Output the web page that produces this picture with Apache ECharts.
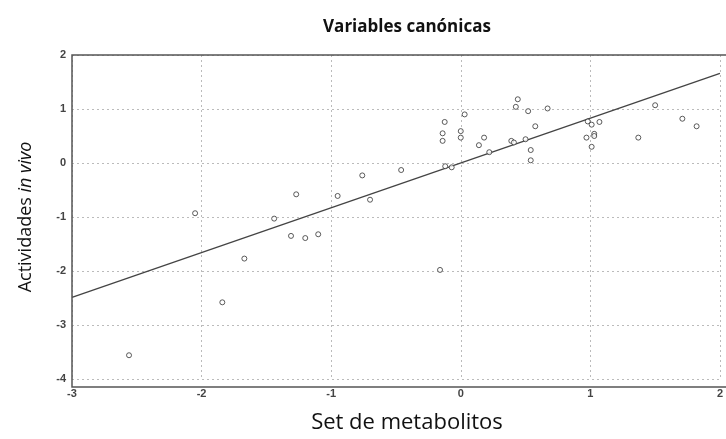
<!DOCTYPE html>
<html><head><meta charset="utf-8">
<script src="https://cdn.jsdelivr.net/npm/echarts@6/dist/echarts.min.js"></script>
<style>html,body{margin:0;padding:0;background:#fff}#c{width:726px;height:439px}</style>
</head><body><div id="c"></div>
<script>
const pointsX = [-2.56,-2.05,-1.67,-1.84,-1.44,-1.27,-1.31,-1.20,-1.10,-0.95,-0.76,-0.70,-0.46,-0.16,
  -0.14,-0.124,-0.14,0.03,0.0,0.0,-0.12,-0.07,0.14,0.18,0.22,0.39,0.41,0.50,0.425,0.44,0.52,0.575,0.54,0.54,0.67,
  0.98,1.01,1.07,1.03,1.03,0.97,1.01,1.50,1.37,1.71,1.82];
const pointsY = [-3.56,-0.93,-1.77,-2.58,-1.03,-0.58,-1.35,-1.39,-1.32,-0.61,-0.23,-0.68,-0.13,-1.98,
  0.55,0.76,0.41,0.90,0.59,0.47,-0.06,-0.08,0.33,0.47,0.20,0.41,0.38,0.44,1.04,1.18,0.96,0.68,0.24,0.05,1.01,
  0.77,0.71,0.76,0.54,0.50,0.47,0.30,1.07,0.47,0.82,0.68];
const fitLineX = [-3, 2];
const fitLineY = [-2.49, 1.66];
const xTicks = [-3,-2,-1,0,1,2];
const yTicks = [-4,-3,-2,-1,0,1,2];

const chart = echarts.init(document.getElementById('c'));
const labelStyle = {color:'#444', fontFamily:'Liberation Sans, Arial', fontWeight:'bold', fontSize:11};
const G = {left:72, top:55, width:655, height:332};
chart.setOption({
  animation:false,
  title:{text:'Variables canónicas', left:402, top:14, textAlign:'center',
    textStyle:{fontFamily:'Open Sans', fontWeight:'bold', fontSize:17, color:'#111'}},
  grid:G,
  xAxis:{type:'value', min:-3, max:2, interval:1,
    name:'Set de metabolitos', nameLocation:'middle', nameGap:33,
    nameTextStyle:{fontFamily:'Open Sans', fontSize:22, color:'#111', padding:[0,0,0,22]},
    axisLine:{show:false},
    axisTick:{show:false},
    axisLabel:Object.assign({margin:9, formatter:v=>xTicks.includes(v)?String(v):''}, labelStyle),
    splitLine:{show:true, lineStyle:{type:[2,3], color:'#bbb', width:1}}},
  yAxis:{type:'value', min:-4, max:2, interval:1,
    name:'{a|Actividades }{b|in vivo}', nameLocation:'middle', nameGap:37, nameRotate:90,
    nameTextStyle:{rich:{a:{fontFamily:'Open Sans', fontSize:18, color:'#111'},
                         b:{fontFamily:'Open Sans', fontSize:18, fontStyle:'italic', color:'#111'}}},
    axisLine:{show:false},
    axisTick:{show:false},
    axisLabel:Object.assign({margin:6, formatter:v=>yTicks.includes(v)?String(v):''}, labelStyle),
    splitLine:{show:true, lineStyle:{type:[2,3], color:'#bbb', width:1}}},
  series:[
    {type:'line', data:fitLineX.map((x,i)=>[x,fitLineY[i]]), symbol:'none',
     lineStyle:{color:'#444', width:1.3}, z:2},
    {type:'scatter', data:pointsX.map((x,i)=>[x,pointsY[i]]), symbol:'circle', symbolSize:5,
     itemStyle:{color:'#fff', borderColor:'#333', borderWidth:1}, z:3}
  ],
  graphic:[
    {type:'rect', shape:{x:G.left, y:G.top, width:G.width, height:G.height}, style:{fill:'none', stroke:'#555', lineWidth:1.5}, z:10}
  ]
});
</script></body></html>
